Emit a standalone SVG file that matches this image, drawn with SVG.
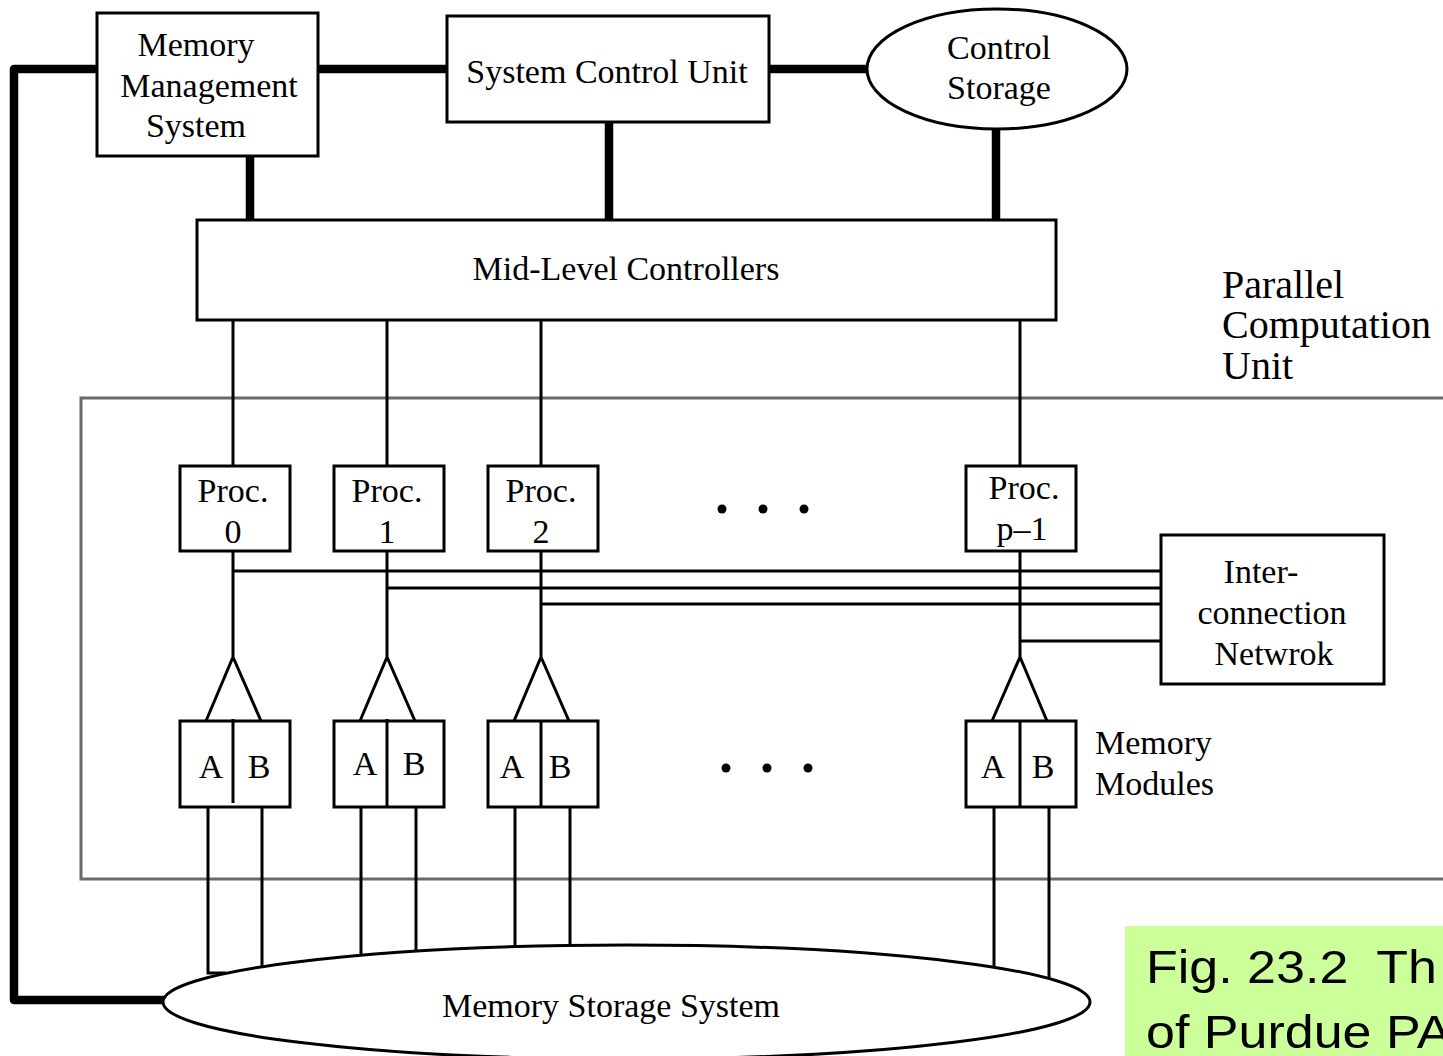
<svg xmlns="http://www.w3.org/2000/svg" width="1443" height="1056" viewBox="0 0 1443 1056">
  <style>
    .box { fill: #ffffff; stroke: #000000; stroke-width: 3; }
    .bus { fill: none; stroke: #000000; stroke-width: 8.5; stroke-linecap: round; stroke-linejoin: round; }
    .wire { fill: none; stroke: #000000; stroke-width: 3; }
    .frame { fill: none; stroke: #6a6a6a; stroke-width: 3; }
    .lbl { font-family: "Liberation Serif", "Times New Roman", serif; font-size: 34px; fill: #000000; text-anchor: middle; }
    .lbl-l { font-family: "Liberation Serif", "Times New Roman", serif; font-size: 34px; fill: #000000; }
    .big { font-family: "Liberation Serif", "Times New Roman", serif; font-size: 40px; fill: #000000; }
    .cap { font-family: "Liberation Sans", Arial, sans-serif; font-size: 52px; fill: #000000; }
    .dot { fill: #000000; }
  </style>

  <rect x="0" y="0" width="1443" height="1056" fill="#ffffff"/>

  <!-- Parallel computation unit boundary -->
  <g id="pcu">
    <rect class="frame" x="81" y="398" width="1400" height="481"/>
    <text class="big" x="1222" y="298">Parallel</text>
    <text class="big" x="1222" y="338">Computation</text>
    <text class="big" x="1222" y="379">Unit</text>
  </g>

  <!-- Connectors -->
  <g id="connectors">
    <!-- heavy control/memory buses -->
    <path class="bus" d="M97,69 H14 V1000 H163"/>
    <line class="bus" x1="318" y1="69" x2="447" y2="69"/>
    <line class="bus" x1="769" y1="69" x2="867" y2="69"/>
    <line class="bus" x1="250" y1="157" x2="250" y2="219"/>
    <line class="bus" x1="609" y1="124" x2="609" y2="219"/>
    <line class="bus" x1="996" y1="130" x2="996" y2="219"/>

    <!-- mid-level controllers to processors -->
    <line class="wire" x1="233" y1="320" x2="233" y2="466"/>
    <line class="wire" x1="387" y1="320" x2="387" y2="466"/>
    <line class="wire" x1="541" y1="320" x2="541" y2="466"/>
    <line class="wire" x1="1020" y1="320" x2="1020" y2="466"/>

    <!-- processors down to module forks -->
    <path class="wire" d="M233,551 V657 L206,721 M233,657 L261,721"/>
    <path class="wire" d="M387,551 V657 L360,721 M387,657 L415,721"/>
    <path class="wire" d="M541,551 V657 L514,721 M541,657 L569,721"/>
    <path class="wire" d="M1020,551 V657 L992,721 M1020,657 L1047,721"/>

    <!-- processor links to the interconnection network -->
    <line class="wire" x1="233" y1="571" x2="1161" y2="571"/>
    <line class="wire" x1="387" y1="588" x2="1161" y2="588"/>
    <line class="wire" x1="541" y1="604" x2="1161" y2="604"/>
    <line class="wire" x1="1020" y1="641" x2="1161" y2="641"/>

    <!-- memory modules to memory storage system -->
    <path class="wire" d="M208,807 V973 H226"/>
    <line class="wire" x1="262" y1="807" x2="262" y2="967"/>
    <line class="wire" x1="361" y1="807" x2="361" y2="956"/>
    <line class="wire" x1="416" y1="807" x2="416" y2="952"/>
    <line class="wire" x1="515" y1="807" x2="515" y2="948"/>
    <line class="wire" x1="570" y1="807" x2="570" y2="946"/>
    <line class="wire" x1="994" y1="807" x2="994" y2="968"/>
    <line class="wire" x1="1049" y1="807" x2="1049" y2="979"/>
  </g>

  <g id="memory-management">
    <rect class="box" x="97" y="13" width="221" height="143"/>
    <text class="lbl" x="196" y="56">Memory</text>
    <text class="lbl" x="209" y="97">Management</text>
    <text class="lbl" x="196" y="137">System</text>
  </g>

  <g id="system-control-unit">
    <rect class="box" x="447" y="16" width="322" height="106"/>
    <text class="lbl" x="607" y="83">System Control Unit</text>
  </g>

  <g id="control-storage">
    <ellipse class="box" cx="997" cy="69" rx="130" ry="60"/>
    <text class="lbl" x="999" y="59">Control</text>
    <text class="lbl" x="999" y="99">Storage</text>
  </g>

  <g id="mid-level-controllers">
    <rect class="box" x="197" y="220" width="859" height="100"/>
    <text class="lbl" x="626" y="280">Mid-Level Controllers</text>
  </g>

  <g id="proc-0">
    <rect class="box" x="180" y="466" width="110" height="85"/>
    <text class="lbl" x="233" y="502">Proc.</text>
    <text class="lbl" x="233" y="543">0</text>
  </g>
  <g id="proc-1">
    <rect class="box" x="334" y="466" width="110" height="85"/>
    <text class="lbl" x="387" y="502">Proc.</text>
    <text class="lbl" x="387" y="543">1</text>
  </g>
  <g id="proc-2">
    <rect class="box" x="488" y="466" width="110" height="85"/>
    <text class="lbl" x="541" y="502">Proc.</text>
    <text class="lbl" x="541" y="543">2</text>
  </g>
  <g id="proc-p-1">
    <rect class="box" x="966" y="466" width="110" height="85"/>
    <text class="lbl" x="1024" y="499">Proc.</text>
    <text class="lbl" x="1022" y="540">p–1</text>
  </g>

  <g id="ellipsis-procs">
    <circle class="dot" cx="722" cy="509" r="4.5"/>
    <circle class="dot" cx="763" cy="509" r="4.5"/>
    <circle class="dot" cx="804" cy="509" r="4.5"/>
  </g>

  <g id="interconnection-network">
    <rect class="box" x="1161" y="535" width="223" height="149"/>
    <text class="lbl" x="1261" y="583">Inter-</text>
    <text class="lbl" x="1272" y="624">connection</text>
    <text class="lbl" x="1274" y="665">Netwrok</text>
  </g>

  <g id="module-0">
    <rect class="box" x="180" y="721" width="110" height="86"/>
    <line class="wire" x1="233" y1="719" x2="233" y2="803"/>
    <text class="lbl" x="211" y="778">A</text>
    <text class="lbl" x="259" y="778">B</text>
  </g>
  <g id="module-1">
    <rect class="box" x="334" y="721" width="110" height="86"/>
    <line class="wire" x1="387" y1="719" x2="387" y2="807"/>
    <text class="lbl" x="365" y="775">A</text>
    <text class="lbl" x="414" y="775">B</text>
  </g>
  <g id="module-2">
    <rect class="box" x="488" y="721" width="110" height="86"/>
    <line class="wire" x1="541" y1="721" x2="541" y2="807"/>
    <text class="lbl" x="512" y="778">A</text>
    <text class="lbl" x="560" y="778">B</text>
  </g>
  <g id="module-p-1">
    <rect class="box" x="966" y="721" width="110" height="86"/>
    <line class="wire" x1="1020" y1="721" x2="1020" y2="807"/>
    <text class="lbl" x="993" y="778">A</text>
    <text class="lbl" x="1043" y="778">B</text>
  </g>

  <g id="ellipsis-modules">
    <circle class="dot" cx="726" cy="768" r="4.5"/>
    <circle class="dot" cx="767" cy="768" r="4.5"/>
    <circle class="dot" cx="808" cy="768" r="4.5"/>
  </g>

  <g id="memory-modules-label">
    <text class="lbl-l" x="1095" y="754">Memory</text>
    <text class="lbl-l" x="1095" y="795">Modules</text>
  </g>

  <g id="memory-storage-system">
    <ellipse class="box" cx="626.5" cy="1002" rx="463.5" ry="57"/>
    <text class="lbl" x="611" y="1017">Memory Storage System</text>
  </g>

  <g id="caption">
    <rect x="1125" y="926" width="330" height="140" fill="#ccff99"/>
    <!-- wide-set caption lettering: squeezed vertically about each baseline -->
    <text class="cap" transform="translate(1146,983) scale(1,0.885)" x="0" y="0" xml:space="preserve">Fig. 23.2  Th</text>
    <text class="cap" transform="translate(1146,1048) scale(1,0.885)" x="0" y="0">of Purdue PA</text>
  </g>
</svg>
